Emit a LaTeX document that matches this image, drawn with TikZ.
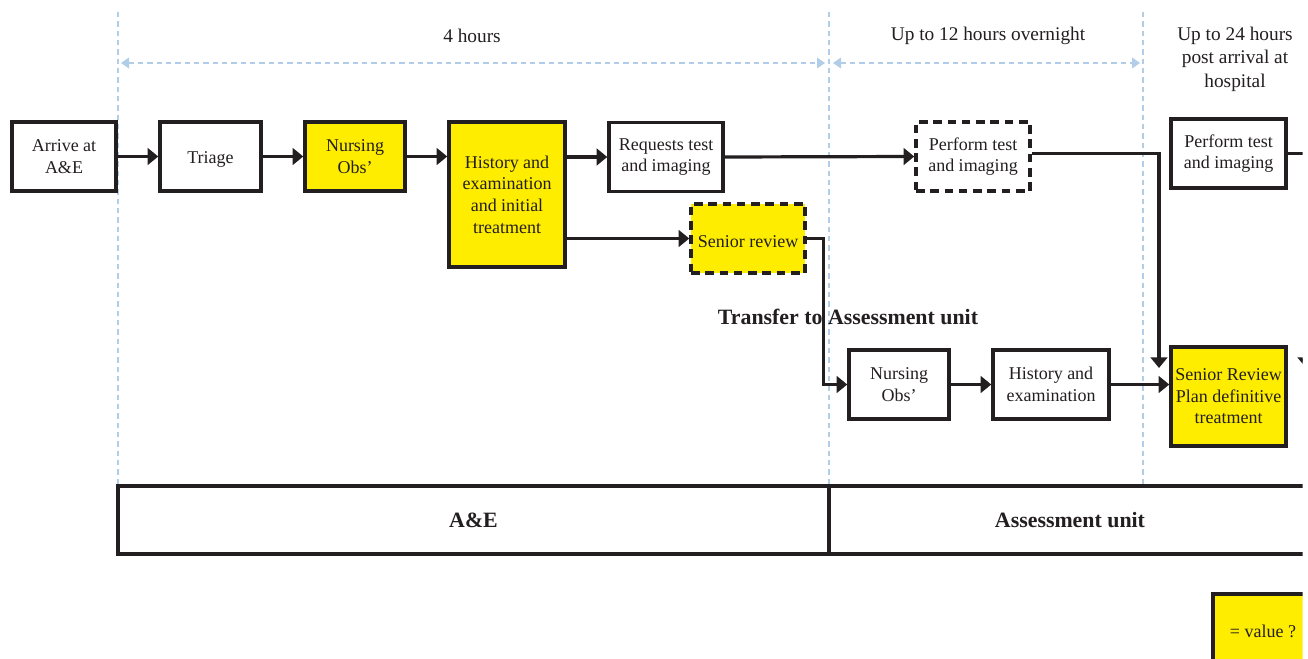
\documentclass[tikz,border=0pt]{standalone}
\usepackage{fontspec}
\setmainfont{Liberation Serif}
\usetikzlibrary{arrows.meta,calc}
\definecolor{ink}{RGB}{35,31,32}
\definecolor{yel}{RGB}{255,237,0}
\definecolor{guidec}{RGB}{178,205,232}
\newcommand{\boxfont}{\fontsize{13.5}{16.2}\selectfont}
\newcommand{\headfont}{\fontsize{14.5}{17.6}\selectfont}
\newcommand{\bandfont}{\fontsize{16.4}{19}\selectfont\bfseries}
\begin{document}
\begin{tikzpicture}[x=0.75pt,y=-0.75pt,
  box/.style={draw=ink, line width=2.6pt, fill=white, inner sep=0pt, align=center, text=ink, font=\boxfont,
              execute at begin node={\rule{0pt}{13pt}}},
  yelbox/.style={box, fill=yel},
  dashedge/.style={dash pattern=on 6.5pt off 4.2pt},
  conn/.style={draw=ink, line width=2.4pt},
  arr/.style={conn, -{Triangle[length=8pt,width=12.5pt]}},
  guide/.style={draw=guidec, line width=1.1pt, dash pattern=on 4pt off 3pt},
  garr/.style={guide, {Triangle[length=6pt,width=8pt]}-{Triangle[length=6pt,width=8pt]}},
  head/.style={text=ink, font=\headfont, align=center, inner sep=0pt},
  band/.style={draw=ink, line width=2.4pt, inner sep=0pt, text=ink, font=\bandfont, minimum height=51pt}
]
\useasboundingbox (0,0) rectangle (1308,659);
\fill[white] (0,0) rectangle (1308,659);
\clip (0,0) rectangle (1302.5,659);

% guides
\draw[guide] (118,12) -- (118,485);
\draw[guide] (829,12) -- (829,485);
\draw[guide] (1143,12) -- (1143,485);
\coordinate (g1a) at (121,63);
\coordinate (g1b) at (825,63);
\coordinate (g2a) at (833,63);
\coordinate (g2b) at (1140,63);
\draw[garr] (g1a) -- (g1b);
\draw[garr] (g2a) -- (g2b);

\node[head] (h1) at (472,36) {4 hours};
\node[head] (h2) at (988,36) {Up to 12 hours overnight};
\node[head] (h3) at (1235,59) {Up to 24 hours\\post arrival at\\hospital};

% boxes
\node[box, minimum width=78pt, minimum height=51.75pt] (arrive) at (64,156.5) {Arrive at\\A\&E};
\node[box, minimum width=75.75pt, minimum height=51.75pt] (triage) at (210.5,156.5) {Triage};
\node[yelbox, minimum width=75pt, minimum height=51.75pt] (nobs) at (355,156.5) {Nursing\\Obs’};
\node[yelbox, minimum width=87pt, minimum height=108.75pt] (hist) at (507,194.5) {History and\\examination\\and initial\\treatment};
\node[box, minimum width=85.5pt, minimum height=51.75pt] (req) at (666,157) {Requests test\\and imaging};
\node[yelbox, dashedge, minimum width=85.5pt, minimum height=51.75pt] (sr) at (748,238.5) {Senior review};
\node[box, dashedge, minimum width=85.5pt, minimum height=51.75pt] (perf) at (973,156.5) {Perform test\\and imaging};
\node[box, minimum width=86.25pt, minimum height=51.75pt] (perf2) at (1228.5,153.5) {Perform test\\and imaging};
\node[box, minimum width=75pt, minimum height=51.75pt] (nobs2) at (899,384.5) {Nursing\\Obs’};
\node[box, minimum width=87pt, minimum height=51.75pt] (hx2) at (1051,384.5) {History and\\examination};
\node[yelbox, minimum width=86.25pt, minimum height=74.25pt] (srv2) at (1228.5,396.5) {Senior Review\\Plan definitive\\treatment};
\node[yelbox, minimum width=75pt, minimum height=51.75pt] (legend) at (1263,628.5) {= value ?};

\node[text=ink, font=\bandfont, inner sep=0pt] (transfer) at (848,317) {Transfer to Assessment unit};

% bands
\node[band, minimum width=533.25pt] (bandae) at (473.5,520) {A\&E};
\node[band, minimum width=361.5pt] (bandau) at (1070,520) {Assessment unit};

% connectors
\draw[arr] (arrive.east) -- (triage.west);
\draw[arr] (triage.east) -- (nobs.west);
\draw[arr] (nobs.east) -- (nobs.east -| hist.west);
\draw[arr] (hist.east |- req.west) -- (req.west);
\draw[arr] (hist.east |- sr.west) -- (sr.west);
\draw[arr] (req.east) -- (perf.west);
\draw[arr] (sr.east) -- ++(17,0) |- (nobs2.west);
\draw[arr] (nobs2.east) -- (hx2.west);
\draw[arr] (hx2.east) -- (hx2.east -| srv2.west);
\coordinate (pe) at (1159,368);
\draw[arr] (perf.east |- perf2.east) -| (pe);
\coordinate (pe2) at (1306,368);
\draw[arr] (perf2.east) -| (pe2);
\end{tikzpicture}
\end{document}
